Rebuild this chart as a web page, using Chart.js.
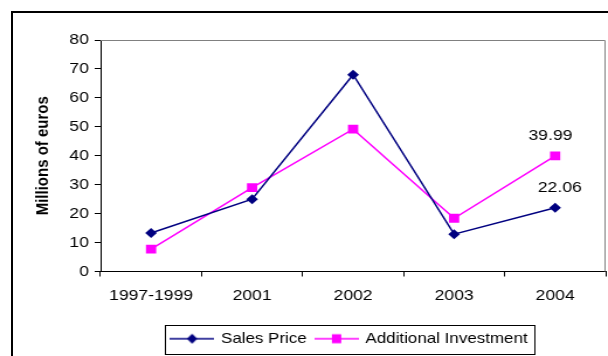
<!DOCTYPE html>
<html>
<head>
<meta charset="utf-8">
<script src="https://cdn.jsdelivr.net/npm/chart.js@4.4.1/dist/chart.umd.min.js"></script>
<style>
  html, body { margin: 0; padding: 0; background: #fff; overflow: hidden; }
  #frame { position: absolute; left: 11px; top: 11px; width: 640px; height: 400px; border: 2px solid #000; }
  /* the chart is drawn narrow and widened, so the lettering comes out broad */
  #chart { position: absolute; left: 0; top: 0; transform: scaleX(1.1692); transform-origin: 0 0; }
</style>
</head>
<body>
<div id="frame"></div>
<canvas id="chart" width="520" height="356"></canvas>
<script>
const categories = ['1997-1999', '2001', '2002', '2003', '2004'];
const salesPrice = [13.3, 25, 68, 12.9, 22.06];
const additionalInvestment = [7.7, 29, 49.2, 18.4, 39.99];
const yTicks = [0, 10, 20, 30, 40, 50, 60, 70, 80];
const labelledPoints = [4]; // only the 2004 values get a label

const FONT = '"Liberation Sans", Arial, sans-serif';
const NAVY = '#000080';
const MAGENTA = '#FF00FF';
const LEGEND_CENTER = 299; // legend sits a bit right of the canvas middle
const LABEL_NUDGE = [4, -4]; // sideways nudge of each series' value label

// little line + marker swatch for the legend
function legendSwatch(color, shape) {
    const c = document.createElement('canvas');
    c.width = 38;
    c.height = 12;
    const ctx = c.getContext('2d');
    ctx.strokeStyle = color;
    ctx.lineWidth = 1.5;
    ctx.beginPath();
    ctx.moveTo(0, 6);
    ctx.lineTo(38, 6);
    ctx.stroke();
    ctx.fillStyle = color;
    ctx.beginPath();
    if (shape === 'diamond') {
        ctx.moveTo(19, 1);
        ctx.lineTo(23.5, 6);
        ctx.lineTo(19, 11);
        ctx.lineTo(14.5, 6);
        ctx.closePath();
    } else {
        ctx.rect(15, 1.5, 8, 9);
    }
    ctx.fill();
    return c;
}
const swatches = [legendSwatch(NAVY, 'diamond'), legendSwatch(MAGENTA, 'square')];

// grey frame on top and right of the plot area
const plotFrame = {
    id: 'plotFrame',
    beforeDatasetsDraw(chart) {
        const { ctx, chartArea: a } = chart;
        ctx.save();
        ctx.strokeStyle = '#808080';
        ctx.lineWidth = 1;
        ctx.beginPath();
        ctx.moveTo(a.left, a.top + 0.5);
        ctx.lineTo(a.right - 0.5, a.top + 0.5);
        ctx.lineTo(a.right - 0.5, a.bottom);
        ctx.stroke();
        ctx.restore();
    }
};

// value labels above the last points
const valueLabels = {
    id: 'valueLabels',
    afterDatasetsDraw(chart) {
        const ctx = chart.ctx;
        ctx.save();
        ctx.font = '15px ' + FONT;
        ctx.fillStyle = '#000';
        ctx.textAlign = 'center';
        ctx.textBaseline = 'alphabetic';
        chart.data.datasets.forEach((ds, i) => {
            const meta = chart.getDatasetMeta(i);
            labelledPoints.forEach(j => {
                const pt = meta.data[j];
                ctx.fillText(ds.data[j].toFixed(2), pt.x + LABEL_NUDGE[i], pt.y - 16);
            });
        });
        ctx.restore();
    }
};

// move the legend row sideways, then box it in
const legendBorder = {
    id: 'legendBorder',
    afterUpdate(chart) {
        const legend = chart.legend;
        const boxes = legend && legend.legendHitBoxes;
        if (!boxes || !boxes.length) return;
        const left = Math.min(...boxes.map(b => b.left));
        const right = Math.max(...boxes.map(b => b.left + b.width));
        const shift = LEGEND_CENTER - (left + right) / 2;
        legend.left += shift;
        legend.right += shift;
        boxes.forEach(b => { b.left += shift; });
    },
    afterDraw(chart) {
        const boxes = chart.legend && chart.legend.legendHitBoxes;
        if (!boxes || !boxes.length) return;
        const left = Math.min(...boxes.map(b => b.left)) - 6;
        const right = Math.max(...boxes.map(b => b.left + b.width)) + 6;
        const top = boxes[0].top - 7;
        const bottom = boxes[0].top + boxes[0].height + 7;
        const ctx = chart.ctx;
        ctx.save();
        ctx.strokeStyle = '#000';
        ctx.lineWidth = 1;
        ctx.strokeRect(Math.round(left) + 0.5, Math.round(top) + 0.5, Math.round(right - left), Math.round(bottom - top));
        ctx.restore();
    }
};

new Chart(document.getElementById('chart').getContext('2d'), {
    type: 'line',
    data: {
        labels: categories,
        datasets: [{
            label: 'Sales Price',
            data: salesPrice,
            borderColor: NAVY,
            backgroundColor: NAVY,
            borderWidth: 1.5,
            pointStyle: 'rectRot',
            pointRadius: 5,
            pointBorderWidth: 0,
            tension: 0
        }, {
            label: 'Additional Investment',
            data: additionalInvestment,
            borderColor: MAGENTA,
            backgroundColor: MAGENTA,
            borderWidth: 1.5,
            pointStyle: 'rect',
            pointRadius: 6.2,
            pointBorderWidth: 0,
            tension: 0
        }]
    },
    options: {
        responsive: false,
        animation: false,
        layout: { autoPadding: false, padding: { left: 22, top: 40, right: 2, bottom: 0 } },
        plugins: {
            legend: {
                position: 'bottom',
                labels: {
                    usePointStyle: true,
                    pointStyleWidth: 35,
                    boxHeight: 12,
                    padding: 8,
                    color: '#000',
                    font: { family: FONT, size: 14.5 },
                    generateLabels(chart) {
                        const items = Chart.defaults.plugins.legend.labels.generateLabels(chart);
                        items.forEach((item, i) => { item.pointStyle = swatches[i]; });
                        return items;
                    }
                }
            },
            tooltip: { enabled: false }
        },
        scales: {
            x: {
                offset: true,
                afterFit(scale) {
                    scale.height += 9;
                    scale.paddingLeft = 0;
                    scale.paddingRight = 0;
                },
                grid: { offset: true, drawOnChartArea: false, tickLength: 5, color: '#000' },
                border: { color: '#000' },
                ticks: { color: '#000', padding: 10, font: { family: FONT, size: 15 } }
            },
            y: {
                min: 0,
                max: 80,
                afterBuildTicks(scale) { scale.ticks = yTicks.map(v => ({ value: v })); },
                afterFit(scale) { scale.width = 64; },
                grid: { drawOnChartArea: false, tickLength: 5, color: '#000' },
                border: { color: '#000' },
                ticks: { color: '#000', padding: 5, font: { family: FONT, size: 15 } },
                title: {
                    display: true,
                    text: 'Millions of euros',
                    color: '#000',
                    font: { family: FONT, size: 15, weight: 'bold' },
                    padding: { top: 6 }
                }
            }
        }
    },
    plugins: [plotFrame, valueLabels, legendBorder]
});
</script>
</body>
</html>
